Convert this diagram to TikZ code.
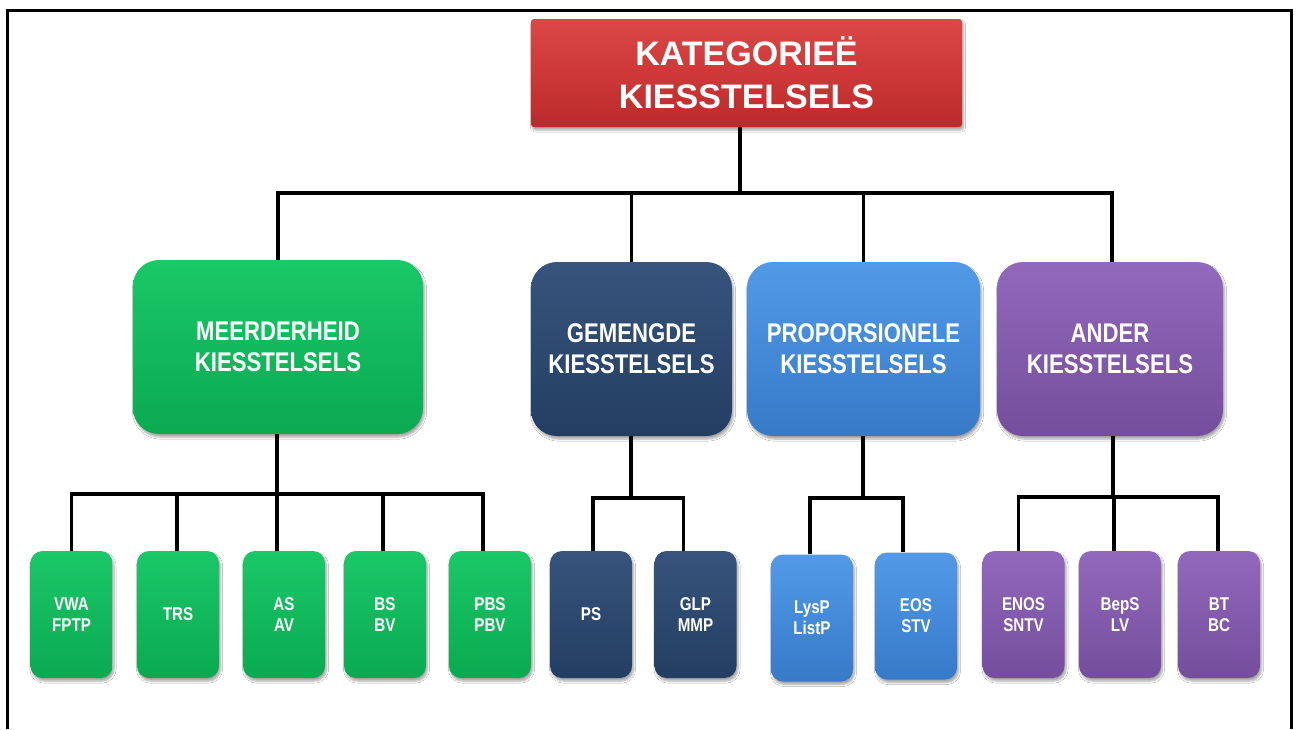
\documentclass[tikz,border=0pt]{standalone}
\usepackage{fontspec}
\setmainfont{Liberation Sans}
\newfontfamily\narrowsans[FakeStretch=0.82]{Liberation Sans}
\usetikzlibrary{shadows.blur}

\definecolor{redTop}{RGB}{218,72,70}
\definecolor{redMid}{RGB}{206,56,56}
\definecolor{redBot}{RGB}{186,42,42}
\definecolor{grnTop}{RGB}{26,200,104}
\definecolor{grnMid}{RGB}{12,186,88}
\definecolor{grnBot}{RGB}{10,170,80}
\definecolor{navTop}{RGB}{54,84,124}
\definecolor{navMid}{RGB}{42,70,108}
\definecolor{navBot}{RGB}{36,62,98}
\definecolor{bluTop}{RGB}{82,154,232}
\definecolor{bluMid}{RGB}{64,136,216}
\definecolor{bluBot}{RGB}{54,122,200}
\definecolor{purTop}{RGB}{146,104,188}
\definecolor{purMid}{RGB}{130,90,170}
\definecolor{purBot}{RGB}{116,78,156}

\tikzset{
  card/.style={draw=none, text=white, align=center, inner sep=0pt,
    blur shadow={shadow xshift=1.5pt, shadow yshift=-3pt, shadow opacity=35, shadow blur steps=6}},
  headbox/.style={card, rounded corners=3pt, minimum width=431pt, minimum height=108pt,
    top color=redTop, bottom color=redBot, middle color=redMid,
    font=\bfseries\fontsize{34}{43}\selectfont},
  groupbox/.style={card, rounded corners=26pt, minimum height=174pt,
    font=\narrowsans\bfseries\fontsize{27}{31}\selectfont},
  leafbox/.style={card, rounded corners=12pt, minimum width=82pt, minimum height=127pt,
    font=\narrowsans\bfseries\fontsize{18.5}{21}\selectfont},
  green/.style={top color=grnTop, middle color=grnMid, bottom color=grnBot},
  navy/.style={top color=navTop, middle color=navMid, bottom color=navBot},
  sky/.style={top color=bluTop, middle color=bluMid, bottom color=bluBot},
  violet/.style={top color=purTop, middle color=purMid, bottom color=purBot},
  wire/.style={draw=black, line width=3.2pt, line join=miter},
}

\begin{document}
\begin{tikzpicture}[x=1pt, y=-1pt]
\useasboundingbox (0,0) rectangle (1298,729);
\fill[white] (0,0) rectangle (1298,729);

% outer frame (open at the bottom)
\draw[line width=3pt] (7,729) -- (7,10) -- (1291,10) -- (1291,729);

% root
\node[headbox] (root) at (746.5,73) {KATEGORIEË\\KIESSTELSELS};

% groups
\node[groupbox, green,  minimum width=290pt] (maj) at (278,347)   {MEERDERHEID\\KIESSTELSELS};
\node[groupbox, navy,   minimum width=201pt] (mix) at (631.5,349) {GEMENGDE\\KIESSTELSELS};
\node[groupbox, sky,    minimum width=233pt] (pro) at (863.5,349) {PROPORSIONELE\\KIESSTELSELS};
\node[groupbox, violet, minimum width=226pt] (oth) at (1110,349)  {ANDER\\KIESSTELSELS};

% leaves
\node[leafbox, green] (vwa) at (71.5,614.5) {VWA\\FPTP};
\node[leafbox, green] (trs) at (178,614.5)  {TRS};
\node[leafbox, green] (as)  at (284,614.5)  {AS\\AV};
\node[leafbox, green] (bs)  at (385,614.5)  {BS\\BV};
\node[leafbox, green] (pbs) at (490,614.5)  {PBS\\PBV};

\node[leafbox, navy] (ps)  at (591,614.5)   {PS};
\node[leafbox, navy] (glp) at (695.5,614.5) {GLP\\MMP};

\node[leafbox, sky] (lys) at (812,618) {LysP\\ListP};
\node[leafbox, sky] (eos) at (916,616) {EOS\\STV};

\node[leafbox, violet] (enos) at (1023.5,614.5) {ENOS\\SNTV};
\node[leafbox, violet] (beps) at (1120,614.5)   {BepS\\LV};
\node[leafbox, violet] (bt)   at (1219,614.5)   {BT\\BC};

% bus junctions
\coordinate (busRoot) at (740,193);
\coordinate (busMaj)  at (277,494);
\coordinate (busMix)  at (631,498);
\coordinate (busPro)  at (863,498);
\coordinate (busOth)  at (1113,497);

% root to groups
\draw[wire] (root.south -| busRoot) -- (busRoot);
\draw[wire] (busRoot) -| (maj.north);
\draw[wire] (busRoot) -| (mix.north);
\draw[wire] (busRoot) -| (pro.north);
\draw[wire] (busRoot) -| ([xshift=2pt]oth.north);

% majority branch
\draw[wire] (maj.south -| busMaj) -- (busMaj);
\draw[wire] (busMaj) -| (vwa.north);
\draw[wire] (busMaj) -| ([xshift=-1pt]trs.north);
\draw[wire] (busMaj) -| ([xshift=-7pt]as.north);
\draw[wire] (busMaj) -| ([xshift=-2pt]bs.north);
\draw[wire] (busMaj) -| ([xshift=-7pt]pbs.north);

% mixed branch
\draw[wire] (mix.south -| busMix) -- (busMix);
\draw[wire] (busMix) -| ([xshift=2pt]ps.north);
\draw[wire] (busMix) -| ([xshift=-12pt]glp.north);

% proportional branch
\draw[wire] (pro.south -| busPro) -- (busPro);
\draw[wire] (busPro) -| ([xshift=-2pt]lys.north);
\draw[wire] (busPro) -| ([xshift=-13pt]eos.north);

% other branch
\draw[wire] (oth.south -| busOth) -- (busOth);
\draw[wire] (busOth) -| ([xshift=-5pt]enos.north);
\draw[wire] (busOth) -| ([xshift=-6pt]beps.north);
\draw[wire] (busOth) -| ([xshift=-1pt]bt.north);
\end{tikzpicture}
\end{document}
